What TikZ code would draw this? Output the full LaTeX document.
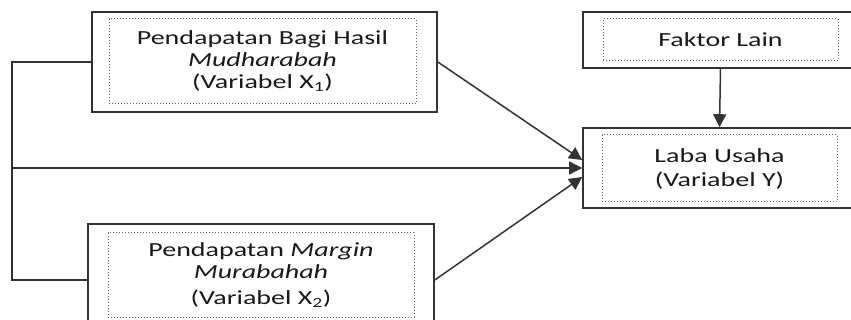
\documentclass[tikz,border=0pt]{standalone}
\usepackage{fontspec}
\setmainfont{Carlito}[FakeStretch=1.4]
\usetikzlibrary{arrows.meta}

\begin{document}
\begin{tikzpicture}[x=1pt,y=-1pt,
    outerbox/.style={draw=black!80,line width=1.6pt,minimum width=#1,inner sep=0pt},
    innerbox/.style={draw=black!60,line width=1pt,dotted,align=center,inner sep=0pt,
        text=black!90,font=\fontsize{20}{22}\selectfont},
    link/.style={draw=black!80,line width=1.5pt},
    tip/.style={-{Triangle[length=13pt,width=13pt]}}]
        \path[use as bounding box,clip] (0,0) rectangle (851,320);
        % variabel bebas
        \node[outerbox=345pt,minimum height=100pt] (x1) at (264.5,62) {};
        \node[innerbox,minimum width=307pt,minimum height=85pt] (x1in) at (262.5,61.5)
            {Pendapatan Bagi Hasil\\ \textit{Mudharabah}\\ (Variabel X\textsubscript{1})};
        \node[outerbox=346pt,minimum height=112pt] (x2) at (261,280) {};
        \node[innerbox,minimum width=306pt,minimum height=84pt] (x2in) at (261,275)
            {Pendapatan \textit{Margin}\\ \textit{Murabahah}\\[4pt] (Variabel X\textsubscript{2})};
        % faktor lain dan variabel terikat
        \node[outerbox=275pt,minimum height=56pt] (fl) at (720.5,40) {};
        \node[innerbox,minimum width=235pt,minimum height=42pt] (flin) at (720.5,40) {Faktor Lain};
        \node[outerbox=273pt,minimum height=80pt] (y) at (719.5,168) {};
        \node[innerbox,minimum width=235pt,minimum height=67pt] (yin) at (719.5,168.5)
            {Laba Usaha\\[2pt] (Variabel Y)};
        % garis penghubung
        \coordinate (lft) at (12,0);
        \draw[link] (x1.west) -- (x1.west -| lft) -- (x2.west -| lft) -- (x2.west);
        \draw[link,tip] (y.west -| lft) -- (y.west);
        \draw[link,tip] (x1.east) -- ([yshift=8pt]y.west);
        \draw[link,tip] (x2.east) -- ([yshift=-9pt]y.west);
        \draw[link,tip] (fl.south) -- (y.north);
    \end{tikzpicture}
\end{document}
